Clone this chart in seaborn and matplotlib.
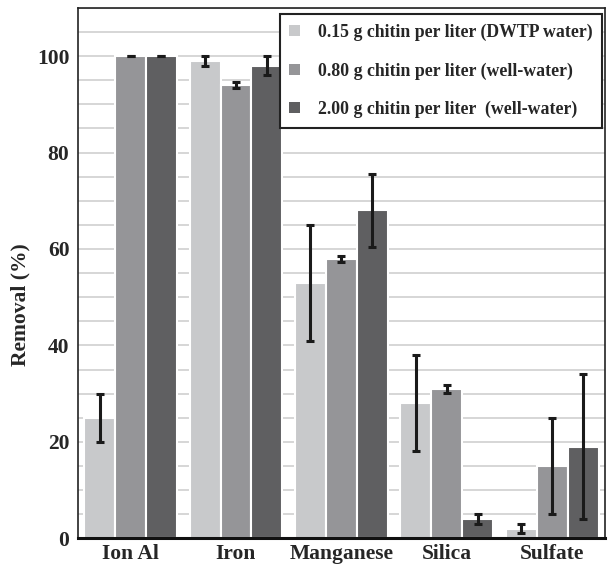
import matplotlib
matplotlib.use("Agg")
import matplotlib.pyplot as plt
import numpy as np
import pandas as pd
import seaborn as sns

categories = ["Ion Al", "Iron", "Manganese", "Silica", "Sulfate"]
series = [
    "0.15 g chitin per liter (DWTP water)",
    "0.80 g chitin per liter (well-water)",
    "2.00 g chitin per liter  (well-water)",
]
removal_015 = [25, 99, 53, 28, 2]
removal_080 = [100, 94, 58, 31, 15]
removal_200 = [100, 98, 68, 4, 19]
err_015 = [5, 1, 12, 10, 1]
err_080 = [0, 0.7, 0.6, 0.8, 10]
err_200 = [0, 2, 7.5, 1, 15]
colors = ["#c8c9cb", "#949598", "#5f5f61"]

values = [removal_015, removal_080, removal_200]
errors = [err_015, err_080, err_200]
df = pd.DataFrame({
    "Ion": np.tile(categories, len(series)),
    "Treatment": np.repeat(series, len(categories)),
    "Removal": np.concatenate(values),
    "Err": np.concatenate(errors),
})

sns.set_theme(style="white")
plt.rcParams["font.family"] = ["Liberation Serif", "DejaVu Serif"]
plt.rcParams["font.weight"] = "bold"

fig = plt.figure(figsize=(6.08, 5.66), dpi=100)
ax = fig.add_axes([0.128, 0.049, 0.867, 0.937])

sns.barplot(data=df, x="Ion", y="Removal", hue="Treatment",
            hue_order=series, order=categories, palette=colors,
            width=0.88, edgecolor="white", linewidth=1.5,
            errorbar=None, ax=ax, zorder=2)

# error bars at the centre of each drawn bar
for container, errs in zip(ax.containers, errors):
    for patch, e in zip(container.patches, errs):
        xc = patch.get_x() + patch.get_width() / 2
        h = patch.get_height()
        ax.errorbar(xc, h, yerr=e, color="#1a1a1a", elinewidth=2.2,
                    capsize=3.2, capthick=2.2, zorder=4)

ax.set_xlim(-0.5, 4.5)
ax.set_ylim(0, 110)
ax.set_yticks(np.arange(0, 101, 20))
ax.set_yticks(np.arange(0, 111, 5), minor=True)
ax.grid(True, which="both", axis="y", color="#d0d0d0", linewidth=1.2, zorder=0)
ax.set_axisbelow(True)
ax.tick_params(axis="y", which="major", length=0, labelsize=15.5, pad=6)
ax.tick_params(axis="y", which="minor", length=0)
ax.tick_params(axis="x", length=0, labelsize=15.5, pad=4)
for lab in ax.get_xticklabels() + ax.get_yticklabels():
    lab.set_fontweight("bold")

ax.set_xlabel("")
ax.set_ylabel("Removal (%)", fontsize=15.5, fontweight="bold")
ax.yaxis.set_label_coords(-0.09, 0.44)

for side in ["top", "right", "left"]:
    ax.spines[side].set_color("#222222")
    ax.spines[side].set_linewidth(1.2)
ax.spines["bottom"].set_color("#111111")
ax.spines["bottom"].set_linewidth(2.2)

leg = ax.legend(loc="upper right", bbox_to_anchor=(1.0, 0.994), frameon=True,
                fancybox=False, edgecolor="#222222", framealpha=1,
                prop={"family": "Liberation Serif", "weight": "bold", "size": 12.8},
                handlelength=0.6, handleheight=0.6, labelspacing=1.2,
                handletextpad=1.0, borderpad=0.55, borderaxespad=0.15)
leg.get_frame().set_linewidth(1.5)
for h in leg.legend_handles:
    h.set_edgecolor("none")

fig.savefig("out.png", dpi=100)
